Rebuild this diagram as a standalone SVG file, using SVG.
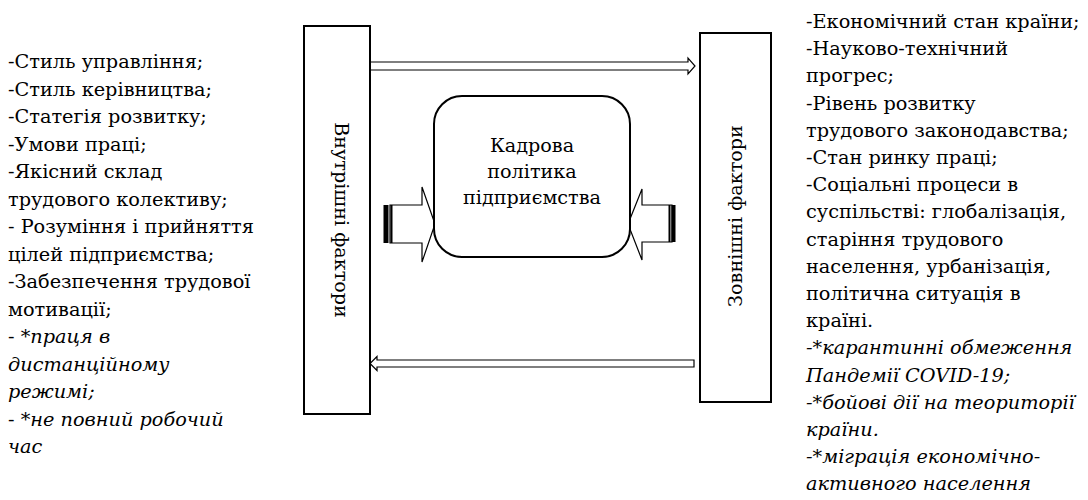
<svg xmlns="http://www.w3.org/2000/svg" width="1088" height="500" viewBox="0 0 1088 500" font-family="DejaVu Serif, serif">
<style>
.t{font-size:19.3px}
.i{font-style:italic}
.box{fill:#fff;stroke:#000;stroke-width:2}
.arr{fill:#fff;stroke:#000;stroke-width:1.2}
.lbl{font-size:19.2px}
</style>
<rect width="1088" height="500" fill="#fff"/>
<g id="connectors">
<path class="arr" d="M370,62 L688,62 L688,58 L695,66 L688,74 L688,70 L370,70 Z"/>
<path class="arr" d="M694,360 L377,360 L377,356.5 L370,363.5 L377,370.5 L377,367 L694,367 Z"/>
<g id="fat-left">
<path class="arr" stroke-width="1.5" d="M390,205 L422,205 L422,187 L435,224 L422,262 L422,243 L390,243 Z"/>
<rect x="383.5" y="205" width="5" height="38" fill="#000"/>
<rect x="390.5" y="205" width="2" height="38" fill="#000"/>
</g>
<g id="fat-right">
<path class="arr" stroke-width="1.5" d="M672,205 L642,205 L642,189 L628,224 L642,260 L642,242 L672,242 Z"/>
<rect x="668.5" y="205" width="2" height="37" fill="#000"/>
<rect x="671.5" y="205" width="4" height="37" fill="#000"/>
</g>
</g>
<g id="inner">
<rect class="box" x="304" y="26" width="66" height="388"/>
<text class="lbl" transform="translate(335,220) rotate(90)" text-anchor="middle">Внутрішні фактори</text>
</g>
<g id="outer">
<rect class="box" x="700" y="33" width="71" height="369"/>
<text class="lbl" transform="translate(742,216) rotate(-90)" text-anchor="middle">Зовнішні фактори</text>
</g>
<g id="policy">
<rect class="box" x="434" y="96" width="196" height="161" rx="28" ry="28"/>
<text class="lbl" text-anchor="middle" x="532" y="152">Кадрова</text>
<text class="lbl" text-anchor="middle" x="532" y="178">політика</text>
<text class="lbl" text-anchor="middle" x="532" y="204">підприємства</text>
</g>
<g id="inner-list" class="t">
<text x="8" y="68">-Стиль управління;</text>
<text x="8" y="95.5">-Стиль керівництва;</text>
<text x="8" y="123">-Статегія розвитку;</text>
<text x="8" y="150.5">-Умови праці;</text>
<text x="8" y="178">-Якісний склад</text>
<text x="8" y="205.5">трудового колективу;</text>
<text x="8" y="233">- Розуміння і прийняття</text>
<text x="8" y="260.5">цілей підприємства;</text>
<text x="8" y="288">-Забезпечення трудової</text>
<text x="8" y="315.5">мотивації;</text>
<text x="8" y="343">- *<tspan class="i">праця в</tspan></text>
<text x="8" y="370.5" class="i">дистанційному</text>
<text x="8" y="398" class="i">режимі;</text>
<text x="8" y="425.5">- *<tspan class="i">не повний робочий</tspan></text>
<text x="8" y="453" class="i">час</text>
</g>
<g id="outer-list" class="t">
<text x="806" y="28">-Економічний стан країни;</text>
<text x="806" y="55.2">-Науково-технічний</text>
<text x="806" y="82.4">прогрес;</text>
<text x="806" y="109.6">-Рівень розвитку</text>
<text x="806" y="136.8">трудового законодавства;</text>
<text x="806" y="164">-Стан ринку праці;</text>
<text x="806" y="191.2">-Соціальні процеси в</text>
<text x="806" y="218.4">суспільстві: глобалізація,</text>
<text x="806" y="245.6">старіння трудового</text>
<text x="806" y="272.8">населення, урбанізація,</text>
<text x="806" y="300">політична ситуація в</text>
<text x="806" y="327.2">країні.</text>
<text x="806" y="354.4" class="i">-*карантинні обмеження</text>
<text x="806" y="381.6" class="i">Пандемії COVID-19;</text>
<text x="806" y="408.8" class="i">-*бойові дії на теориторії</text>
<text x="806" y="436" class="i">країни.</text>
<text x="806" y="463.2" class="i">-*міграція економічно-</text>
<text x="806" y="490.4" class="i">активного населення</text>
</g>
</svg>
